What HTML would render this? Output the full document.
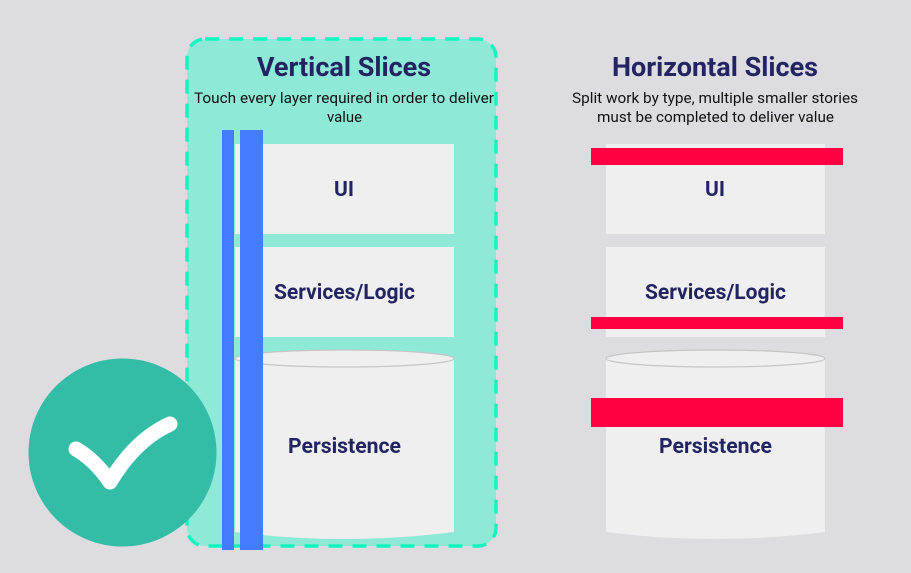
<!DOCTYPE html>
<html><head><meta charset="utf-8"><style>
html,body{margin:0;padding:0;background:#dddce0;}
svg{display:block;font-family:"Roboto","Liberation Sans",sans-serif;}
</style></head><body>
<svg width="911" height="573" viewBox="0 0 911 573" xmlns="http://www.w3.org/2000/svg">
<rect width="911" height="573" fill="#dddce0"/>
<rect x="187" y="39" width="309" height="507" rx="18" fill="#8fe9d7" stroke="#13f5c0" stroke-width="3.5" stroke-dasharray="14,10"/>
<text x="344" y="76" text-anchor="middle" font-size="27" font-weight="bold" fill="#232563">Vertical Slices</text>
<text x="194" y="103" font-size="14.5" fill="#111" textLength="300" lengthAdjust="spacingAndGlyphs">Touch every layer required in order to deliver</text>
<text x="327" y="122" font-size="14.5" fill="#111" textLength="35" lengthAdjust="spacingAndGlyphs">value</text>
<rect x="235" y="144" width="219" height="90" fill="#efefef"/>
<rect x="235" y="247" width="219" height="90" fill="#efefef"/>
<path d="M235 358 L235 532 Q344 546 454 532 L454 358 Z" fill="#efefef"/>
<ellipse cx="344.5" cy="358.5" rx="109.5" ry="8.5" fill="#efefef" stroke="#c4c4c4" stroke-width="1.2"/>
<text x="344" y="196" text-anchor="middle" font-size="21" font-weight="bold" fill="#232563">UI</text>
<text x="274" y="299" font-size="21" font-weight="bold" fill="#232563" textLength="141" lengthAdjust="spacingAndGlyphs">Services/Logic</text>
<text x="288" y="453" font-size="21" font-weight="bold" fill="#232563" textLength="113" lengthAdjust="spacingAndGlyphs">Persistence</text>
<rect x="222" y="130" width="12" height="420" fill="#447cff"/>
<rect x="240" y="130" width="23" height="420" fill="#447cff"/>
<text x="715" y="76" text-anchor="middle" font-size="27" font-weight="bold" fill="#232563">Horizontal Slices</text>
<text x="572" y="103" font-size="14.5" fill="#111" textLength="286" lengthAdjust="spacingAndGlyphs">Split work by type, multiple smaller stories</text>
<text x="597" y="122" font-size="14.5" fill="#111" textLength="237" lengthAdjust="spacingAndGlyphs">must be completed to deliver value</text>
<rect x="606" y="144" width="219" height="90" fill="#efefef"/>
<rect x="606" y="247" width="219" height="90" fill="#efefef"/>
<path d="M606 358 L606 532 Q715 546 825 532 L825 358 Z" fill="#efefef"/>
<ellipse cx="715.5" cy="358.5" rx="109.5" ry="8.5" fill="#efefef" stroke="#c4c4c4" stroke-width="1.2"/>
<text x="715" y="196" text-anchor="middle" font-size="21" font-weight="bold" fill="#232563">UI</text>
<text x="645" y="299" font-size="21" font-weight="bold" fill="#232563" textLength="141" lengthAdjust="spacingAndGlyphs">Services/Logic</text>
<text x="659" y="453" font-size="21" font-weight="bold" fill="#232563" textLength="113" lengthAdjust="spacingAndGlyphs">Persistence</text>
<rect x="591" y="148" width="252" height="17" fill="#ff0040"/>
<rect x="591" y="317" width="252" height="12" fill="#ff0040"/>
<rect x="591" y="398" width="252" height="29" fill="#ff0040"/>
<circle cx="122.5" cy="452.5" r="94" fill="#33bda7"/>
<path d="M76 449 Q95 460 110 482 Q135 440 170 424" fill="none" stroke="#fff" stroke-width="15" stroke-linecap="round" stroke-linejoin="round"/>
</svg>
</body></html>
